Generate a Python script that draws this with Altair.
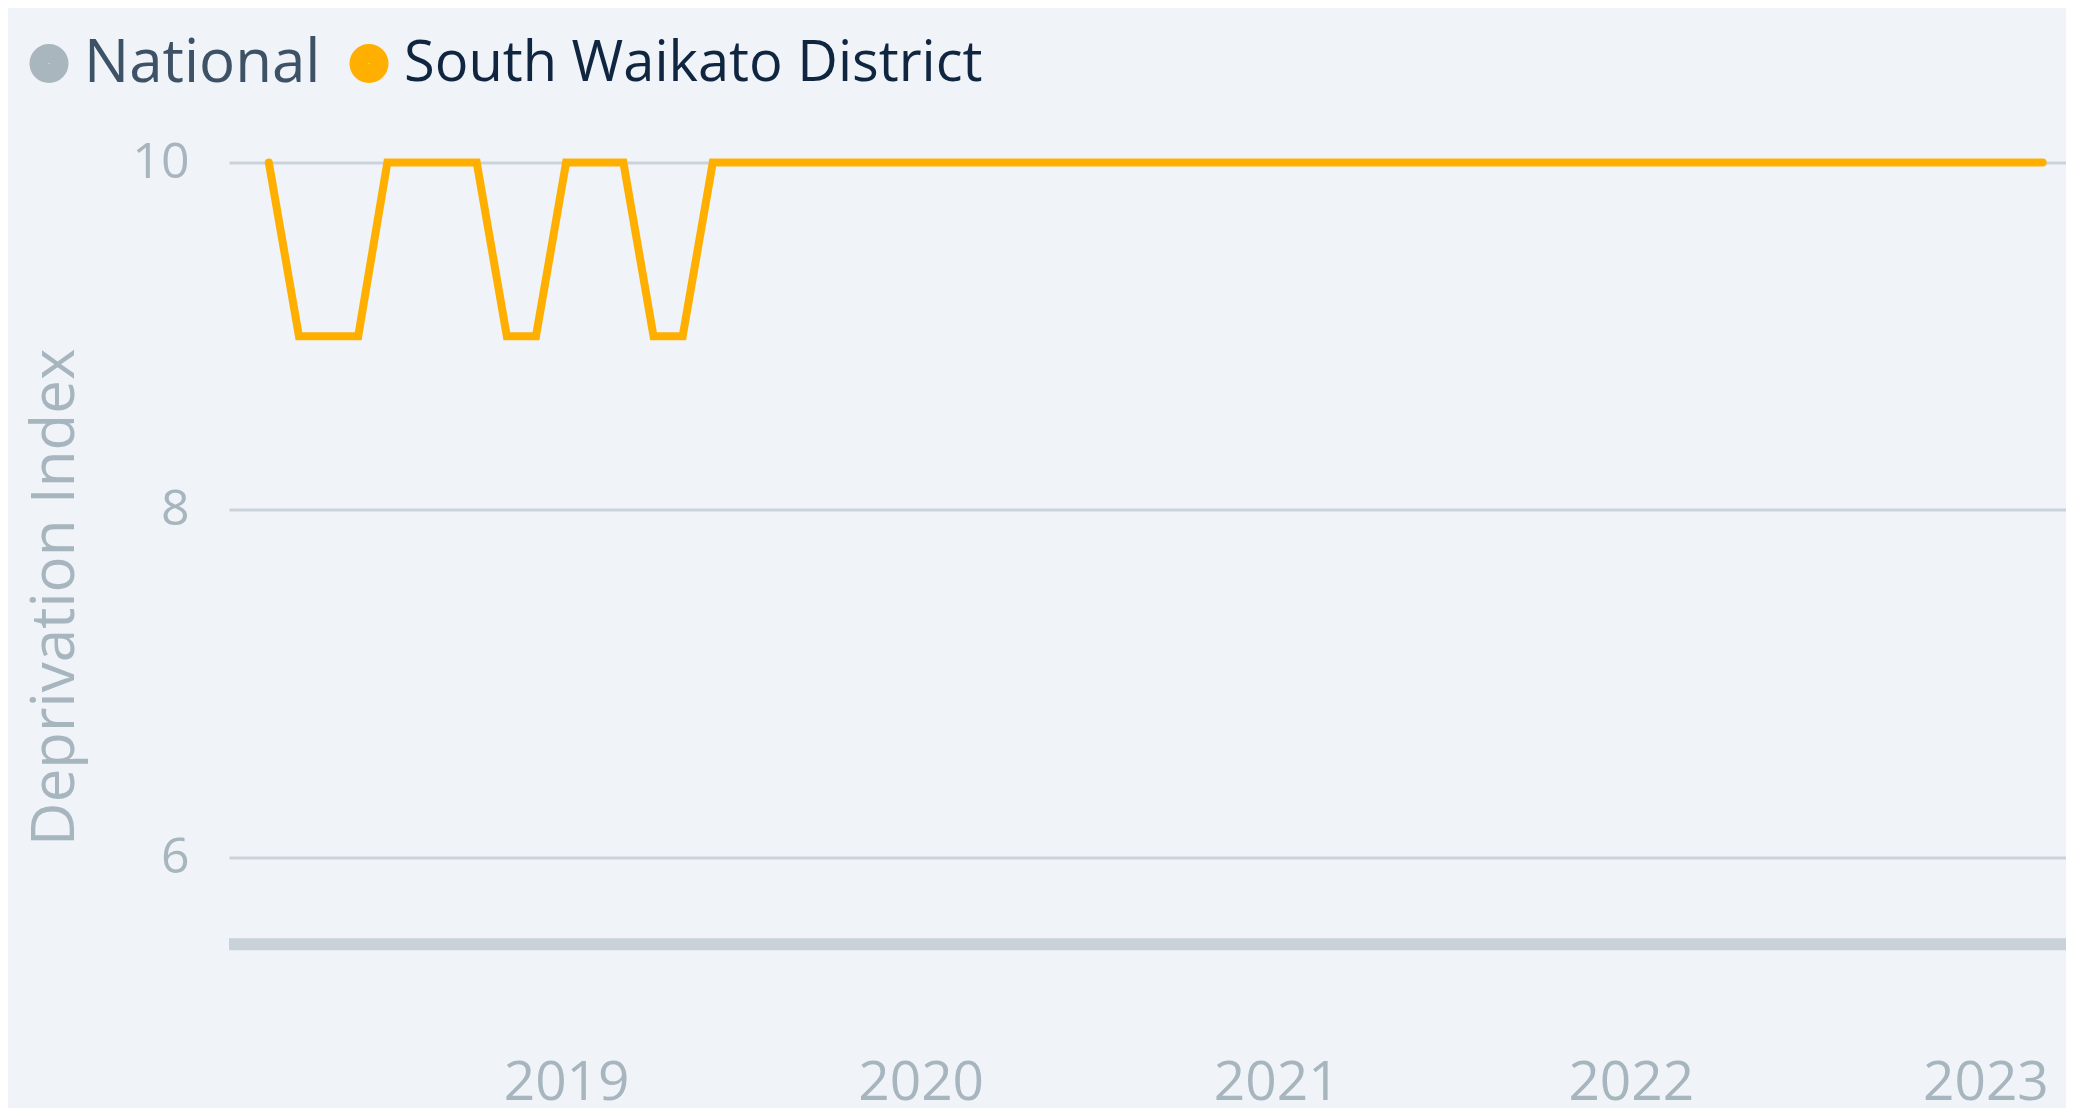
import altair as alt
import pandas as pd

# ---- data ----
district_name = "South Waikato District"
national_name = "National"

district_start = "2018-03-01"
district_end = "2023-03-01"
district_values = [
    10,             # 2018-03
    9, 9, 9,        # 2018-04..06
    10, 10, 10, 10, # 2018-07..10
    9, 9,           # 2018-11..12
    10, 10, 10,     # 2019-01..03
    9, 9,           # 2019-04..05
    10, 10, 10, 10, 10, 10, 10,                  # 2019-06..12
    10, 10, 10, 10, 10, 10, 10, 10, 10, 10, 10, 10,  # 2020
    10, 10, 10, 10, 10, 10, 10, 10, 10, 10, 10, 10,  # 2021
    10, 10, 10, 10, 10, 10, 10, 10, 10, 10, 10, 10,  # 2022
    10, 10, 10,                                  # 2023-01..03
]

national_dates = ["2018-01-01", "2023-06-01"]
national_values = [5.5, 5.5]

year_ticks = [2019, 2020, 2021, 2022, 2023]
y_ticks = [6, 8, 10]

district_dates = pd.date_range(district_start, district_end, freq="MS").strftime("%Y-%m-%d")
df_d = pd.DataFrame({"date": district_dates, "value": district_values, "series": district_name})
df_n = pd.DataFrame({"date": national_dates, "value": national_values, "series": national_name})

ORANGE = "#FFAF00"
GREY = "#A9B6BD"
LABEL = "#A7B5BE"
GRID = "#CBD3DA"
BG = "#F0F4F8"

x_scale = alt.Scale(
    type="utc",
    domain=[alt.DateTime(year=2018, month=1, date=19, utc=True),
            alt.DateTime(year=2023, month=3, date=25, utc=True)],
)
y_scale = alt.Scale(domain=[5, 10], nice=False, zero=False)
color_scale = alt.Scale(domain=[national_name, district_name], range=[GREY, ORANGE])

x_axis = alt.Axis(
    values=[alt.DateTime(year=y, month=1, date=1, utc=True) for y in year_ticks],
    format="%Y", grid=False, domain=False, ticks=False,
    labelFontSize=55, labelColor=LABEL, labelPadding=25, title=None,
)
y_axis = alt.Axis(
    values=y_ticks, grid=True, gridColor=GRID, gridWidth=3,
    domain=False, ticks=False, labelFontSize=50, labelColor=LABEL, labelPadding=40,
    title="Deprivation Index", titleFontSize=60, titleColor=LABEL,
    titleFontWeight="normal", titlePadding=45,
)

legend = alt.Legend(
    title=None, orient="none", direction="horizontal",
    legendX=-208, legendY=-127,
    symbolType="circle", symbolSize=400, symbolStrokeWidth=19,
    labelFontSize={"expr": "datum.label == 'National' ? 60 : 56"},
    labelColor={"expr": "datum.label == 'National' ? '#3D5266' : '#102640'"},
    labelOffset=7, columnPadding=0, symbolOpacity=1, labelLimit=2000,
)

color = alt.Color("series:N", scale=color_scale, legend=legend)

national = alt.Chart(df_n).mark_line(strokeWidth=12, opacity=0.55, clip=True).encode(
    x=alt.X("date:T", scale=x_scale, axis=x_axis),
    y=alt.Y("value:Q", scale=y_scale, axis=y_axis),
    color=color,
)

district = alt.Chart(df_d).mark_line(strokeWidth=8, strokeCap="round").encode(
    x=alt.X("date:T", scale=x_scale, axis=x_axis),
    y=alt.Y("value:Q", scale=y_scale, axis=y_axis),
    color=color,
)

chart = alt.layer(national, district).properties(
    width=1837, height=868.5,
    autosize=alt.AutoSizeParams(type="none"),
    padding={"left": 221, "top": 154.5, "right": 0, "bottom": 77},
    background=BG,
).configure(font="Open Sans").configure_view(stroke=None)

chart.save("out.html", embed_options={"renderer": "svg", "actions": False})
